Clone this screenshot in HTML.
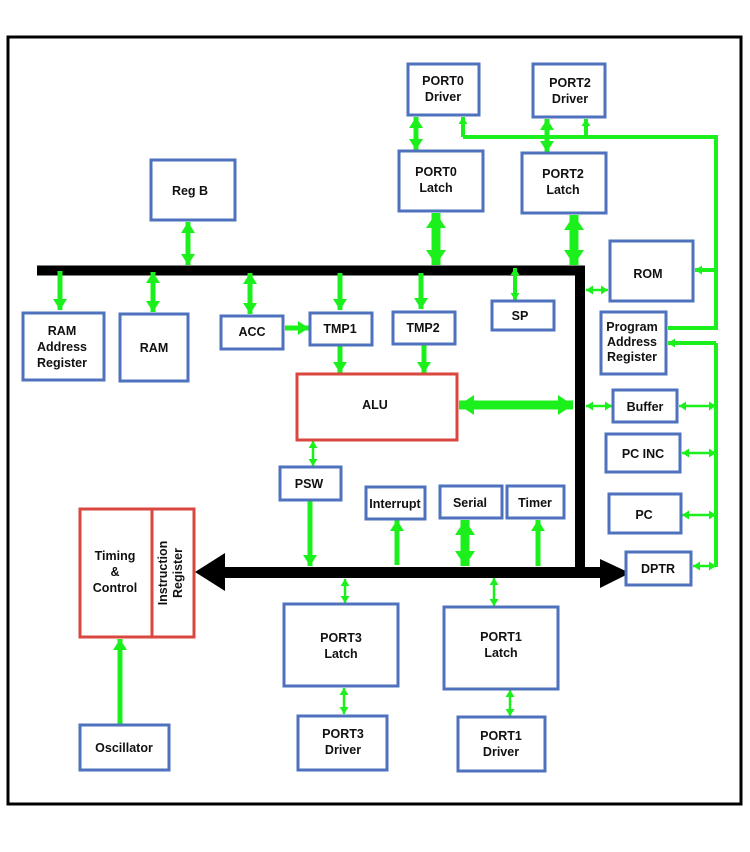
<!DOCTYPE html>
<html><head><meta charset="utf-8"><style>
body{margin:0;background:#fff;width:750px;height:847px;overflow:hidden}
svg text{font-family:"Liberation Sans",sans-serif;font-weight:bold;font-size:12.5px;fill:#111;text-anchor:middle}
</style></head><body>
<svg width="750" height="847" xmlns="http://www.w3.org/2000/svg">
<defs>
<marker id="a" markerWidth="11" markerHeight="14" refX="11" refY="7" orient="auto-start-reverse" markerUnits="userSpaceOnUse"><path d="M0,0 L11,7 L0,14 z" fill="#1cf01c"/></marker>
<marker id="b" markerWidth="7" markerHeight="9" refX="7" refY="4.5" orient="auto-start-reverse" markerUnits="userSpaceOnUse"><path d="M0,0 L7,4.5 L0,9 z" fill="#1cf01c"/></marker>
<marker id="c" markerWidth="15" markerHeight="20" refX="15" refY="10" orient="auto-start-reverse" markerUnits="userSpaceOnUse"><path d="M0,0 L15,10 L0,20 z" fill="#1cf01c"/></marker>
</defs>
<rect x="8" y="37" width="733" height="767" fill="none" stroke="#000" stroke-width="3"/>
<path d="M37 270.5 H580 V572" stroke="#000" stroke-width="10" fill="none"/>
<rect x="222" y="567" width="382" height="11" fill="#000"/>
<polygon points="195,572 225,553 225,591" fill="#000"/>
<polygon points="630,573 600,559 600,588" fill="#000"/>
<g fill="none" stroke="#1cf01c">
<g stroke-width="5" marker-end="url(#a)">
<line x1="188" y1="222" x2="188" y2="265" marker-start="url(#a)"/>
<line x1="60" y1="271" x2="60" y2="310"/>
<line x1="153" y1="272" x2="153" y2="312" marker-start="url(#a)"/>
<line x1="250" y1="273" x2="250" y2="314" marker-start="url(#a)"/>
<line x1="340" y1="273" x2="340" y2="310"/>
<line x1="421" y1="273" x2="421" y2="309"/>
<line x1="285" y1="328" x2="309" y2="328"/>
<line x1="340" y1="346" x2="340" y2="373"/>
<line x1="424" y1="345" x2="424" y2="373"/>
<line x1="416" y1="117" x2="416" y2="150" marker-start="url(#a)"/>
<line x1="547" y1="119" x2="547" y2="152" marker-start="url(#a)"/>
<line x1="310" y1="501" x2="310" y2="566"/>
<line x1="397" y1="565" x2="397" y2="520"/>
<line x1="538" y1="566" x2="538" y2="520"/>
<line x1="120" y1="724" x2="120" y2="639"/>
</g>
<g stroke-width="4" marker-end="url(#b)">
<line x1="515" y1="268" x2="515" y2="300" marker-start="url(#b)"/>
<line x1="463" y1="137" x2="463" y2="117"/>
<line x1="586" y1="137" x2="586" y2="119"/>
<line x1="716" y1="270" x2="695" y2="270"/>
<line x1="716" y1="343" x2="668" y2="343"/>
</g>
<path d="M463 137 H716 V328 H668" stroke-width="4"/>
<path d="M716 343 V567" stroke-width="4"/>
<g stroke-width="2.5" marker-end="url(#b)">
<line x1="586" y1="290" x2="608" y2="290" marker-start="url(#b)"/>
<line x1="586" y1="406" x2="612" y2="406" marker-start="url(#b)"/>
<line x1="679" y1="406" x2="716" y2="406" marker-start="url(#b)"/>
<line x1="682" y1="453" x2="716" y2="453" marker-start="url(#b)"/>
<line x1="682" y1="515" x2="716" y2="515" marker-start="url(#b)"/>
<line x1="693" y1="566" x2="716" y2="566" marker-start="url(#b)"/>
<line x1="313" y1="441" x2="313" y2="466" marker-start="url(#b)"/>
<line x1="345" y1="579" x2="345" y2="603" marker-start="url(#b)"/>
<line x1="494" y1="578" x2="494" y2="606" marker-start="url(#b)"/>
<line x1="344" y1="688" x2="344" y2="714" marker-start="url(#b)"/>
<line x1="510" y1="690" x2="510" y2="716" marker-start="url(#b)"/>
</g>
<g stroke-width="9" marker-end="url(#c)">
<line x1="436" y1="213" x2="436" y2="265" marker-start="url(#c)"/>
<line x1="574" y1="215" x2="574" y2="265" marker-start="url(#c)"/>
<line x1="459" y1="405" x2="573" y2="405" marker-start="url(#c)"/>
<line x1="465" y1="520" x2="465" y2="566" marker-start="url(#c)"/>
</g>
</g>
<g fill="#fff" stroke="#4f72be" stroke-width="3">
<rect x="408" y="64" width="71" height="51"/>
<rect x="533" y="64" width="72" height="53"/>
<rect x="399" y="151" width="84" height="60"/>
<rect x="522" y="153" width="84" height="60"/>
<rect x="151" y="160" width="84" height="60"/>
<rect x="610" y="241" width="83" height="60"/>
<rect x="23" y="313" width="81" height="67"/>
<rect x="120" y="314" width="68" height="67"/>
<rect x="221" y="316" width="62" height="33"/>
<rect x="310" y="313" width="62" height="32"/>
<rect x="393" y="312" width="62" height="32"/>
<rect x="492" y="301" width="62" height="29"/>
<rect x="601" y="312" width="65" height="62"/>
<rect x="613" y="390" width="64" height="32"/>
<rect x="606" y="434" width="74" height="38"/>
<rect x="609" y="494" width="72" height="39"/>
<rect x="626" y="552" width="65" height="33"/>
<rect x="280" y="467" width="61" height="33"/>
<rect x="366" y="487" width="59" height="32"/>
<rect x="440" y="486" width="62" height="32"/>
<rect x="507" y="486" width="57" height="32"/>
<rect x="284" y="604" width="114" height="82"/>
<rect x="444" y="607" width="114" height="82"/>
<rect x="298" y="716" width="89" height="54"/>
<rect x="458" y="717" width="87" height="54"/>
<rect x="80" y="725" width="89" height="45"/>
</g>
<g fill="#fff" stroke="#d9473f" stroke-width="3">
<rect x="297" y="374" width="160" height="66"/>
<rect x="80" y="509" width="72" height="128"/>
<rect x="152" y="509" width="42" height="128"/>
</g>
<text x="443" y="85">PORT0</text><text x="443" y="101">Driver</text>
<text x="570" y="87">PORT2</text><text x="570" y="103">Driver</text>
<text x="436" y="176">PORT0</text><text x="436" y="192">Latch</text>
<text x="563" y="178">PORT2</text><text x="563" y="194">Latch</text>
<text x="190" y="195">Reg B</text>
<text x="648" y="278">ROM</text>
<text x="62" y="335">RAM</text><text x="62" y="351">Address</text><text x="62" y="367">Register</text>
<text x="154" y="352">RAM</text>
<text x="252" y="336">ACC</text>
<text x="340" y="333">TMP1</text>
<text x="423" y="332">TMP2</text>
<text x="520" y="320">SP</text>
<g style="font-weight:normal;font-size:11.5px"><text x="632" y="331">Program</text><text x="632" y="346">Address</text><text x="632" y="361">Register</text></g>
<text x="645" y="411">Buffer</text>
<text x="643" y="458">PC INC</text>
<text x="644" y="519">PC</text>
<text x="658" y="573">DPTR</text>
<text x="375" y="409">ALU</text>
<text x="309" y="488">PSW</text>
<text x="395" y="508">Interrupt</text>
<text x="470" y="507">Serial</text>
<text x="535" y="507">Timer</text>
<text x="115" y="560">Timing</text><text x="115" y="576">&amp;</text><text x="115" y="592">Control</text>
<text transform="translate(167,573) rotate(-90)">Instruction</text>
<text transform="translate(182,573) rotate(-90)">Register</text>
<text x="341" y="642">PORT3</text><text x="341" y="658">Latch</text>
<text x="501" y="641">PORT1</text><text x="501" y="657">Latch</text>
<text x="343" y="738">PORT3</text><text x="343" y="754">Driver</text>
<text x="501" y="740">PORT1</text><text x="501" y="756">Driver</text>
<text x="124" y="752">Oscillator</text>
</svg>
</body></html>
